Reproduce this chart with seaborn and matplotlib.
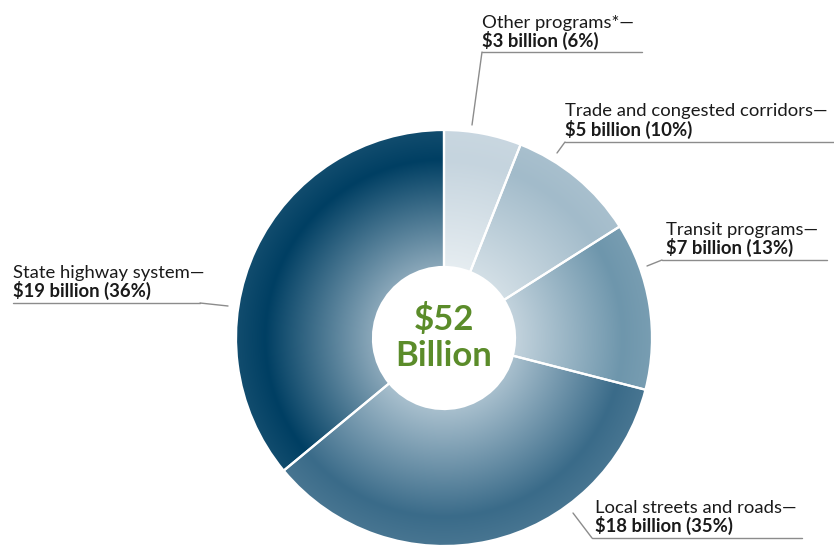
import numpy as np
import matplotlib
matplotlib.use("Agg")
import matplotlib.pyplot as plt
from matplotlib.colors import to_rgb
import seaborn as sns

# Program spending, clockwise from the top
programs = ["Other programs*", "Trade and congested corridors", "Transit programs",
            "Local streets and roads", "State highway system"]
billions = [3, 5, 7, 18, 19]
shares = [6, 10, 13, 35, 36]
total_billions = 52

# Radial gradient stops for each slice: light near the hole, deep near the rim
inner_colors = ["#e6edf1", "#d3dfe6", "#c3d3dd", "#a9c0ce", "#8ba8ba"]
outer_colors = ["#c5d4de", "#a2bbca", "#6e96ac", "#3a6b89", "#003f63"]

sns.set_theme(style="white")
plt.rcParams["font.family"] = ["Lato", "DejaVu Sans"]

W, H = 834, 546
fig = plt.figure(figsize=(W / 100, H / 100), dpi=100)
ax = fig.add_axes([0, 0, 1, 1])


def py(y):
    """Convert a top-down pixel row to the axes' bottom-up coordinate."""
    return H - y


cx, cy = 444, py(338)
R, r_in = 208, 71

wedges, _ = ax.pie(shares, startangle=90, counterclock=False, center=(cx, cy),
                   radius=R, frame=True,
                   wedgeprops=dict(width=R - r_in, edgecolor="white", linewidth=1.6))

# Gradient fill clipped to each wedge
n = 600
xs = np.linspace(cx - R, cx + R, n)
ys = np.linspace(cy - R, cy + R, n)
gx, gy = np.meshgrid(xs, ys)
t = np.hypot(gx - cx, gy - cy) / R
stops = [0.0, 0.34, 0.86, 1.0]
for wedge, c_in, c_out in zip(wedges, inner_colors, outer_colors):
    a = np.array(to_rgb(c_in))
    b = np.array(to_rgb(c_out))
    edge = b * 0.93 + 0.07
    cols = [a * 0.8 + 0.2, a, b, edge]
    img = np.zeros((n, n, 3))
    for ch in range(3):
        img[..., ch] = np.interp(t, stops, [c[ch] for c in cols])
    im = ax.imshow(img, extent=(cx - R, cx + R, cy - R, cy + R), origin="lower",
                   interpolation="bilinear", zorder=1)
    im.set_clip_path(wedge)
    wedge.set_facecolor("none")
    wedge.set_zorder(2)

ax.set_xlim(0, W)
ax.set_ylim(0, H)
ax.set_aspect("equal")
ax.axis("off")

# Label layout (same order as programs): text x, baselines, underline, leader
label_layout = [
    dict(x=482, b1=28, b2=47, uy=52, ux=(482, 642), lead=[(482, 52), (472, 125)]),
    dict(x=565, b1=116, b2=136, uy=142, ux=(565, 834), lead=[(565, 142), (557, 153)]),
    dict(x=666, b1=235, b2=254, uy=260, ux=(662, 827), lead=[(662, 260), (647, 266)]),
    dict(x=595, b1=513, b2=532, uy=538, ux=(592, 802), lead=[(592, 538), (573, 513)]),
    dict(x=13, b1=278, b2=297, uy=303, ux=(13, 200), lead=[(200, 303), (228, 306)]),
]

text_color = "#1a1a1a"
line_color = "#8c8c8c"
for name, b, s, lay in zip(programs, billions, shares, label_layout):
    ax.text(lay["x"], py(lay["b1"]), f"{name}\u2014", fontsize=13.3,
            color=text_color, va="baseline", ha="left", zorder=5)
    ax.text(lay["x"], py(lay["b2"]), f"${b} billion ({s}%)", fontsize=13.3,
            fontweight="bold", color=text_color, va="baseline", ha="left", zorder=5)
    ax.plot(lay["ux"], [py(lay["uy"])] * 2, color=line_color, lw=1.0, zorder=4)
    (x0, y0), (x1, y1) = lay["lead"]
    ax.plot([x0, x1], [py(y0), py(y1)], color=line_color, lw=1.0, zorder=4)

# Total in the hole
green = "#5b8c2a"
ax.text(cx, py(320), f"${total_billions}", fontsize=25, fontweight="bold",
        color=green, ha="center", va="center", zorder=5)
ax.text(cx, py(356), "Billion", fontsize=25, fontweight="bold",
        color=green, ha="center", va="center", zorder=5)

fig.savefig("out.png", dpi=100, facecolor="white")
